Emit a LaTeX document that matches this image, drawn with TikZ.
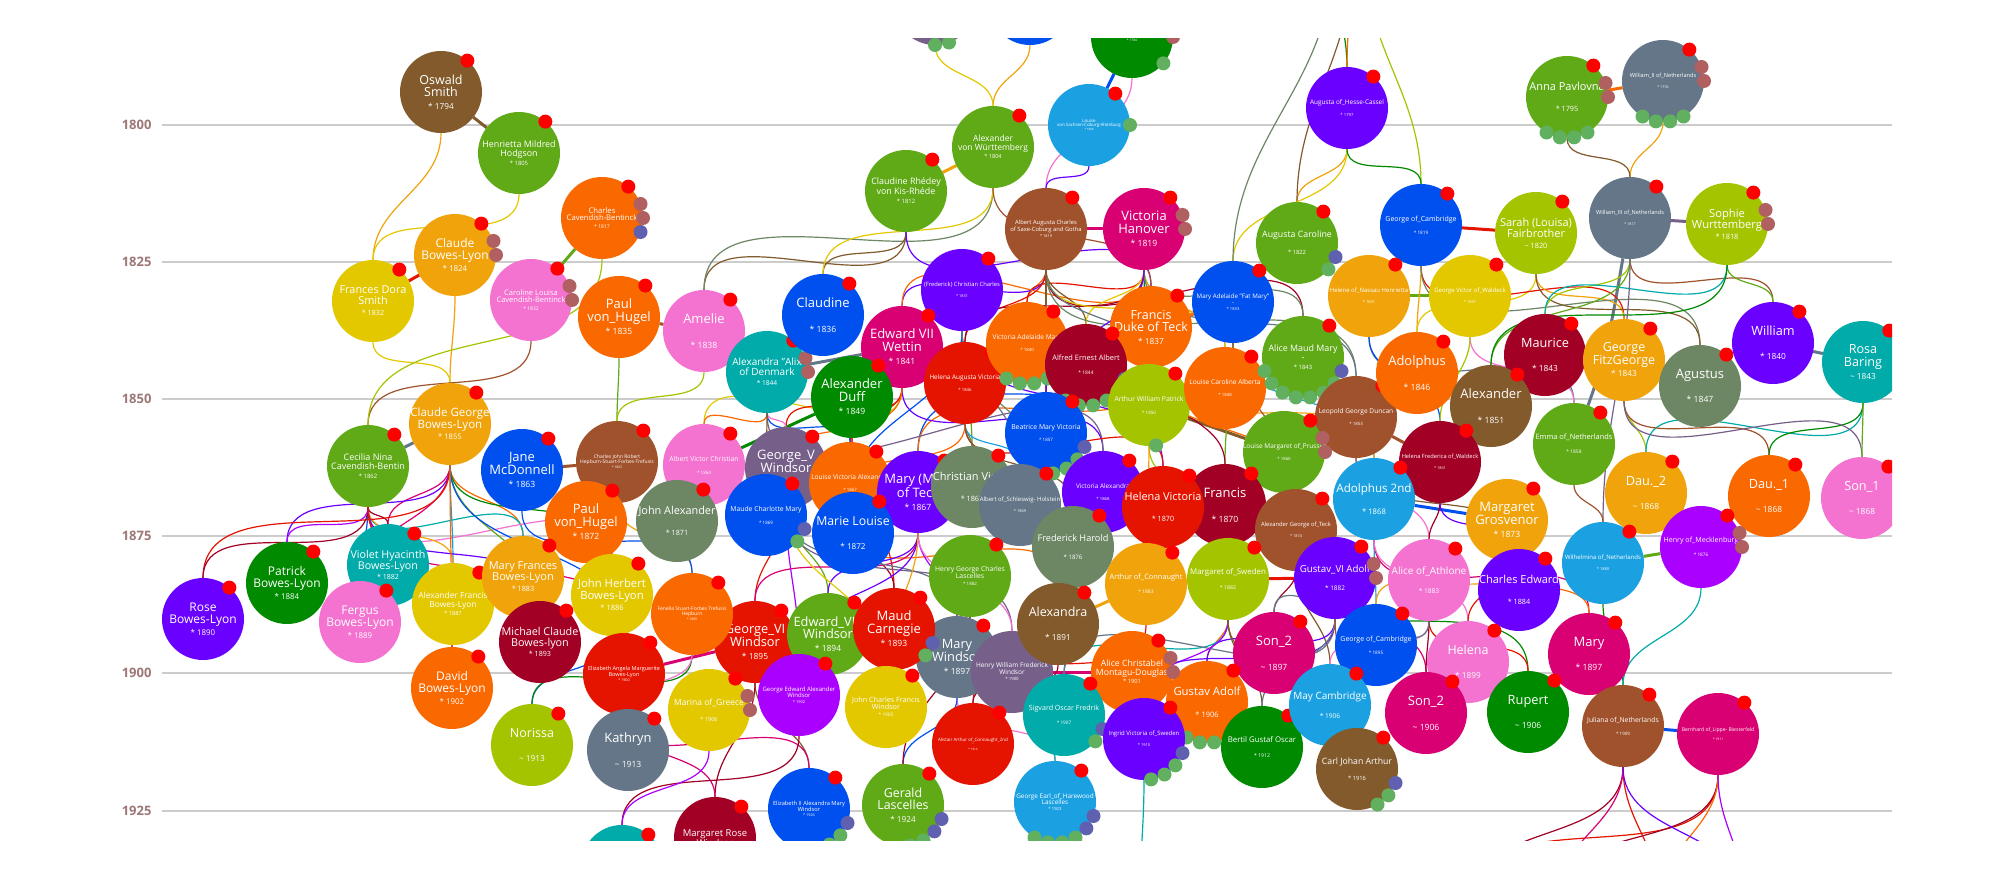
\documentclass[tikz,border=0pt]{standalone}
\usepackage{fontspec}
\setmainfont{Open Sans}
\usetikzlibrary{backgrounds}

% palette of the family tree
\definecolor{cLime}{HTML}{A4C400}
\definecolor{cGreen}{HTML}{60A917}
\definecolor{cEmerald}{HTML}{008A00}
\definecolor{cTeal}{HTML}{00ABA9}
\definecolor{cCyan}{HTML}{1BA1E2}
\definecolor{cCobalt}{HTML}{0050EF}
\definecolor{cIndigo}{HTML}{6A00FF}
\definecolor{cViolet}{HTML}{AA00FF}
\definecolor{cPink}{HTML}{F472D0}
\definecolor{cMagenta}{HTML}{D80073}
\definecolor{cCrimson}{HTML}{A20025}
\definecolor{cRed}{HTML}{E51400}
\definecolor{cOrange}{HTML}{FA6800}
\definecolor{cAmber}{HTML}{F0A30A}
\definecolor{cYellow}{HTML}{E3C800}
\definecolor{cBrown}{HTML}{825A2C}
\definecolor{cOlive}{HTML}{6D8764}
\definecolor{cSteel}{HTML}{647687}
\definecolor{cMauve}{HTML}{76608A}
\definecolor{cSienna}{HTML}{A0522D}
\definecolor{dRed}{HTML}{FF0000}
\definecolor{dBrn}{HTML}{B06060}
\definecolor{dBlu}{HTML}{6060B0}
\definecolor{dGrn}{HTML}{60B060}
\definecolor{gridc}{HTML}{CCCCCC}
\definecolor{yearc}{HTML}{9E7777}

\makeatletter
\newcommand{\yr}[1]{{\fontsize{\fpeval{0.66*\f@size}}{\fpeval{0.7*\f@size}}\selectfont #1}}
\makeatother
\newcommand{\gp}{\\[0.9em]}
\newcommand{\pips}[2]{\foreach \a/\c in {#2}{\fill[\c] (#1.\a) circle (7pt);}}

\begin{document}
\begin{tikzpicture}[x=1pt, y=-1pt,
    pers/.style={circle, minimum size=82pt, inner sep=-8pt, outer sep=0pt, text=white, align=center},
    fs/.style={font=\fontsize{#1}{#1}\selectfont},
    kid/.style={line width=1.2pt},
    wed/.style={line width=3pt},
    gline/.style={gridc, line width=1.5pt},
    yearlab/.style={text=yearc, font=\bfseries\fontsize{13}{13}\selectfont, anchor=east}]

\useasboundingbox (0,0) rectangle (2000,882);

\begin{scope}
\clip (0,39) rectangle (1892,840);

% 1. year axis
\foreach \yy/\yv in {1800/125,1825/262,1850/399,1875/536,1900/673,1925/811}
    \node[yearlab] (y\yy) at (155,\yv) {\yy};

% 2. oldest row (partly cut off at the top)
\node[pers, fill=cMauve] (topMauve) at (935,4) {}; \pips{topMauve}{50/dRed,-70/dGrn,-90/dGrn}
\node[pers, fill=cCobalt] (topBlue) at (1030,4) {}; \pips{topBlue}{50/dRed}
\node[pers, fill=cEmerald, fs=5] (saalfeld) at (1132,37) {\mbox{}\\von Sachsen-Coburg-Saalfeld\\\yr{* 1784}}; \pips{saalfeld}{50/dRed,0/dBrn,-40/dGrn}
\node[pers, fill=cBrown, fs=12.5] (oswald) at (441,92) {Oswald\\Smith\\\yr{* 1794}}; \pips{oswald}{50/dRed}
\node[pers, fill=cGreen, fs=8.9] (henrietta) at (519,153) {Henrietta Mildred\\Hodgson\\\yr{* 1805}}; \pips{henrietta}{50/dRed}
\node[pers, fill=cCyan, fs=4.4] (louise1800) at (1089,125) {Louise\\von Sachsen-Coburg-Altenburg\\\yr{* 1800}}; \pips{louise1800}{50/dRed,0/dGrn}
\node[pers, fill=cGreen, fs=8.5] (alexW) at (993,147) {Alexander\\von Württemberg\\\yr{* 1804}}; \pips{alexW}{50/dRed}
\node[pers, fill=cIndigo, fs=6.4] (hesse) at (1347,108) {Augusta of\_Hesse-Cassel\gp\yr{* 1797}}; \pips{hesse}{50/dRed}
\node[pers, fill=cGreen, fs=11] (anna) at (1567,97) {Anna Pavlovna\gp\yr{* 1795}}; \pips{anna}{50/dRed,20/dBrn,0/dBrn,-60/dGrn,-80/dGrn,-100/dGrn,-120/dGrn}
\node[pers, fill=cSteel, fs=5.6] (will2) at (1663,81) {William\_II of\_Netherlands\gp\yr{* 1792}}; \pips{will2}{50/dRed,20/dBrn,0/dBrn,-60/dGrn,-80/dGrn,-100/dGrn,-120/dGrn}

% 3. generation around 1820
\node[pers, fill=cGreen, fs=8.9] (claudineR) at (906,191) {Claudine Rhédey\\von Kis-Rhéde\\\yr{* 1812}}; \pips{claudineR}{50/dRed}
\node[pers, fill=cAmber, fs=12] (claudeBL) at (455,255) {Claude\\Bowes-Lyon\\\yr{* 1824}}; \pips{claudeBL}{50/dRed,20/dBrn,0/dBrn}
\node[pers, fill=cOrange, fs=7.7] (charlesCB) at (602,218) {Charles\\Cavendish-Bentinck\\\yr{* 1817}}; \pips{charlesCB}{50/dRed,20/dBrn,0/dBrn,-20/dBlu}
\node[pers, fill=cYellow, fs=10.9] (frances) at (373,301) {Frances Dora\\Smith\\\yr{* 1832}}; \pips{frances}{50/dRed}
\node[pers, fill=cPink, fs=7.5] (caroline) at (531,300) {Caroline Louisa\\Cavendish-Bentinck\\\yr{* 1832}}; \pips{caroline}{50/dRed,20/dBrn,0/dBrn}
\node[pers, fill=cSienna, fs=5.8] (albert) at (1046,229) {Albert Augusta Charles\\of Saxe-Coburg and Gotha\\\yr{* 1819}}; \pips{albert}{50/dRed}
\node[pers, fill=cMagenta, fs=13] (victoria) at (1144,229) {Victoria\\Hanover\\\yr{* 1819}}; \pips{victoria}{50/dRed,20/dBrn,0/dBrn}
\node[pers, fill=cGreen, fs=8.8] (augCar) at (1297,243) {Augusta Caroline\gp\yr{* 1822}}; \pips{augCar}{50/dRed,-20/dBlu,-40/dGrn}
\node[pers, fill=cCobalt, fs=7] (georgeC) at (1421,225) {George of\_Cambridge\gp\yr{* 1819}}; \pips{georgeC}{50/dRed}
\node[pers, fill=cLime, fs=11] (sarah) at (1536,233) {Sarah (Louisa)\\Fairbrother\\\yr{\textasciitilde\ 1820}}; \pips{sarah}{50/dRed}
\node[pers, fill=cSteel, fs=5.6] (will3) at (1630,218) {William\_III of\_Netherlands\gp\yr{* 1817}}; \pips{will3}{50/dRed}
\node[pers, fill=cLime, fs=11.2] (sophie) at (1727,224) {Sophie\\Wurttemberg\\\yr{* 1818}}; \pips{sophie}{50/dRed,20/dBrn,0/dBrn}

% 4. generation around 1840
\node[pers, fill=cIndigo, fs=5.8] (christianC) at (962,290) {(Frederick) Christian Charles\gp\yr{* 1831}}; \pips{christianC}{50/dRed}
\node[pers, fill=cAmber, fs=6] (helene) at (1369,296) {Helene of\_Nassau Henrietta\gp\yr{* 1831}}; \pips{helene}{50/dRed}
\node[pers, fill=cYellow, fs=6] (georgeVW) at (1470,296) {George Victor of\_Waldeck\gp\yr{* 1831}}; \pips{georgeVW}{50/dRed}
\node[pers, fill=cCobalt, fs=6.2] (maryAd) at (1233,302) {Mary Adelaide "Fat Mary"\\-\\\yr{* 1833}}; \pips{maryAd}{50/dRed}
\node[pers, fill=cOrange, fs=13] (paul35) at (619,317) {Paul\\von\_Hugel\\\yr{* 1835}}; \pips{paul35}{50/dRed}
\node[pers, fill=cPink, fs=13] (amelie) at (704,331) {Amelie\gp\yr{* 1838}}; \pips{amelie}{50/dRed}
\node[pers, fill=cTeal, fs=10] (alix) at (767,372) {Alexandra "Alix\\of Denmark\\\yr{* 1844}}; \pips{alix}{50/dRed,20/dBrn,0/dBrn}
\node[pers, fill=cCobalt, fs=13] (claudine) at (823,315) {Claudine\gp\yr{* 1836}}; \pips{claudine}{50/dRed}
\node[pers, fill=cMagenta, fs=13] (edward7) at (902,347) {Edward VII\\Wettin\\\yr{* 1841}}; \pips{edward7}{50/dRed}
\node[pers, fill=cEmerald, fs=13] (duff) at (852,397) {Alexander\\Duff\\\yr{* 1849}}; \pips{duff}{50/dRed}
\node[pers, fill=cRed, fs=6.4] (helenaAV) at (965,383) {Helena Augusta Victoria\gp\yr{* 1846}}; \pips{helenaAV}{50/dRed}
\node[pers, fill=cOrange, fs=6.6] (vicAdel) at (1027,343) {Victoria Adelaide Mary\gp\yr{* 1840}}; \pips{vicAdel}{50/dRed,-40/dGrn,-60/dGrn,-80/dGrn,-100/dGrn,-120/dGrn}
\node[pers, fill=cOrange, fs=12.5] (francisT) at (1151,327) {Francis\\Duke of Teck\\\yr{* 1837}}; \pips{francisT}{50/dRed}
\node[pers, fill=cCrimson, fs=7.4] (alfred) at (1086,365) {Alfred Ernest Albert\gp\yr{* 1844}}; \pips{alfred}{50/dRed,-20/dBlu,-40/dGrn,-60/dGrn,-80/dGrn,-100/dGrn,-120/dGrn}
\node[pers, fill=cLime, fs=6.8] (arthurWP) at (1149,405) {Arthur William Patrick\gp\yr{* 1850}}; \pips{arthurWP}{50/dRed,-80/dGrn}
\node[pers, fill=cOrange, fs=6.6] (louiseCA) at (1225,388) {Louise Caroline Alberta\gp\yr{* 1848}}; \pips{louiseCA}{50/dRed}
\node[pers, fill=cGreen, fs=8.9] (aliceMM) at (1303,357) {Alice Maud Mary\\-\\\yr{* 1843}}; \pips{aliceMM}{50/dRed,-20/dBlu,-40/dGrn,-60/dGrn,-80/dGrn,-100/dGrn,-120/dGrn,-140/dGrn,-160/dGrn}
\node[pers, fill=cCobalt, fs=6.8] (beatrice) at (1046,433) {Beatrice Mary Victoria\gp\yr{* 1857}}; \pips{beatrice}{50/dRed,-20/dBlu,-40/dGrn,-60/dGrn,-80/dGrn}
\node[pers, fill=cSienna, fs=6.6] (leopold) at (1356,417) {Leopold George Duncan\gp\yr{* 1853}}; \pips{leopold}{50/dRed}
\node[pers, fill=cGreen, fs=6.5] (louiseMP) at (1284,452) {Louise Margaret of\_Prussia\gp\yr{* 1860}}; \pips{louiseMP}{50/dRed,20/dBrn,0/dBrn}
\node[pers, fill=cOrange, fs=13] (adolphus) at (1417,373) {Adolphus\gp\yr{* 1846}}; \pips{adolphus}{50/dRed}
\node[pers, fill=cCrimson, fs=12.7] (maurice) at (1545,355) {Maurice\gp\yr{* 1843}}; \pips{maurice}{50/dRed}
\node[pers, fill=cBrown, fs=13] (alexander51) at (1491,406) {Alexander\gp\yr{* 1851}}; \pips{alexander51}{50/dRed}
\node[pers, fill=cCrimson, fs=5.7] (helenaFW) at (1440,462) {Helena Frederica of\_Waldeck\gp\yr{* 1861}}; \pips{helenaFW}{50/dRed}
\node[pers, fill=cAmber, fs=12.5] (fitzG) at (1624,360) {George\\FitzGeorge\\\yr{* 1843}}; \pips{fitzG}{50/dRed}
\node[pers, fill=cOlive, fs=13] (agustus) at (1700,386) {Agustus\gp\yr{* 1847}}; \pips{agustus}{50/dRed}
\node[pers, fill=cIndigo, fs=12.7] (william) at (1773,343) {William\gp\yr{* 1840}}; \pips{william}{50/dRed}
\node[pers, fill=cTeal, fs=12.6] (rosa) at (1863,362) {Rosa\\Baring\\\yr{\textasciitilde\ 1843}}; \pips{rosa}{50/dRed}
\node[pers, fill=cGreen, fs=7.4] (emma) at (1574,444) {Emma of\_Netherlands\gp\yr{* 1858}}; \pips{emma}{50/dRed}

% 5. generation around 1865
\node[pers, fill=cAmber, fs=11.5] (claudeG) at (450,424) {Claude George\\Bowes-Lyon\\\yr{* 1855}}; \pips{claudeG}{50/dRed}
\node[pers, fill=cGreen, fs=9] (cecilia) at (368,466) {Cecilia Nina\\Cavendish-Bentin\\\yr{* 1862}}; \pips{cecilia}{50/dRed}
\node[pers, fill=cCobalt, fs=13] (jane) at (522,470) {Jane\\McDonnell\\\yr{* 1863}}; \pips{jane}{50/dRed}
\node[pers, fill=cSienna, fs=5] (charlesJR) at (617,462) {Charles John Robert\\Hepburn-Stuart-Forbes-Trefusis\\\yr{* 1863}}; \pips{charlesJR}{50/dRed}
\node[pers, fill=cPink, fs=6.8] (albertVC) at (704,465) {Albert Victor Christian\gp\yr{* 1864}}; \pips{albertVC}{50/dRed}
\node[pers, fill=cMauve, fs=13] (georgeV) at (786,468) {George\_V\\Windsor\\\yr{* 1865}}; \pips{georgeV}{50/dRed}
\node[pers, fill=cOrange, fs=6.6] (louiseVA) at (850,483) {Louise Victoria Alexandra\gp\yr{* 1867}}; \pips{louiseVA}{50/dRed}
\node[pers, fill=cCobalt, fs=6.8] (maudeCM) at (766,515) {Maude Charlotte Mary\gp\yr{* 1869}}; \pips{maudeCM}{50/dRed,-20/dBlu,-40/dGrn}
\node[pers, fill=cIndigo, fs=13] (maryTeck) at (918,492) {Mary (May)\\of Teck\\\yr{* 1867}}; \pips{maryTeck}{50/dRed}
\node[pers, fill=cCobalt, fs=12.3] (marieL) at (853,533) {Marie Louise\gp\yr{* 1872}}; \pips{marieL}{50/dRed}
\node[pers, fill=cOlive, fs=11] (christianV) at (972,487) {Christian Victor\gp\yr{* 1867}}; \pips{christianV}{50/dRed}
\node[pers, fill=cSteel, fs=6] (albertSH) at (1020,505) {Albert of\_Schleswig- Holstein\gp\yr{* 1869}}; \pips{albertSH}{50/dRed}
\node[pers, fill=cIndigo, fs=6.4] (vicAlex) at (1103,492) {Victoria Alexandra\gp\yr{* 1868}}; \pips{vicAlex}{50/dRed}
\node[pers, fill=cOlive, fs=9.2] (fredH) at (1073,547) {Frederick Harold\gp\yr{* 1876}}; \pips{fredH}{50/dRed}
\node[pers, fill=cCrimson, fs=13] (francis70) at (1225,505) {Francis\gp\yr{* 1870}}; \pips{francis70}{50/dRed}
\node[pers, fill=cRed, fs=10.9] (helenaV) at (1163,507) {Helena Victoria\gp\yr{* 1870}}; \pips{helenaV}{50/dRed}
\node[pers, fill=cSienna, fs=5.8] (alexGT) at (1296,530) {Alexander George of\_Teck\gp\yr{* 1874}}; \pips{alexGT}{50/dRed}
\node[pers, fill=cCyan, fs=11.6] (adolphus2) at (1374,499) {Adolphus 2nd\gp\yr{* 1868}}; \pips{adolphus2}{50/dRed}
\node[pers, fill=cAmber, fs=13] (margG) at (1507,520) {Margaret\\Grosvenor\\\yr{* 1873}}; \pips{margG}{50/dRed}
\node[pers, fill=cAmber, fs=12.7] (dau2) at (1646,493) {Dau.\_2\gp\yr{\textasciitilde\ 1868}}; \pips{dau2}{50/dRed}
\node[pers, fill=cOrange, fs=12.7] (dau1) at (1769,496) {Dau.\_1\gp\yr{\textasciitilde\ 1868}}; \pips{dau1}{50/dRed}
\node[pers, fill=cPink, fs=12.7] (son1) at (1862,498) {Son\_1\gp\yr{\textasciitilde\ 1868}}; \pips{son1}{50/dRed}
\node[pers, fill=cCyan, fs=6] (wilhelmina) at (1603,563) {Wilhelmina of\_Netherlands\gp\yr{* 1880}}; \pips{wilhelmina}{50/dRed}
\node[pers, fill=cViolet, fs=7.1] (henryM) at (1701,547) {Henry of\_Mecklenburg\gp\yr{* 1876}}; \pips{henryM}{50/dRed,20/dBrn,0/dBrn}
\node[pers, fill=cOrange, fs=13] (paul72) at (586,522) {Paul\\von\_Hugel\\\yr{* 1872}}; \pips{paul72}{50/dRed}
\node[pers, fill=cOlive, fs=10.9] (johnA) at (677,521) {John Alexander\gp\yr{* 1871}}; \pips{johnA}{50/dRed}
\node[pers, fill=cGreen, fs=6.8] (henryL) at (970,576) {Henry George Charles\\Lascelles\\\yr{* 1882}}; \pips{henryL}{50/dRed}

% 6. Bowes-Lyon children
\node[pers, fill=cTeal, fs=10.7] (violet) at (388,565) {Violet Hyacinth\\Bowes-Lyon\\\yr{* 1882}}; \pips{violet}{50/dRed}
\node[pers, fill=cEmerald, fs=12] (patrick) at (287,583) {Patrick\\Bowes-Lyon\\\yr{* 1884}}; \pips{patrick}{50/dRed}
\node[pers, fill=cIndigo, fs=12] (rose) at (203,619) {Rose\\Bowes-Lyon\\\yr{* 1890}}; \pips{rose}{50/dRed}
\node[pers, fill=cPink, fs=12] (fergus) at (360,622) {Fergus\\Bowes-Lyon\\\yr{* 1889}}; \pips{fergus}{50/dRed}
\node[pers, fill=cYellow, fs=8.4] (alexF) at (453,604) {Alexander Francis\\Bowes-Lyon\\\yr{* 1887}}; \pips{alexF}{50/dRed}
\node[pers, fill=cAmber, fs=11] (maryF) at (523,577) {Mary Frances\\Bowes-Lyon\\\yr{* 1883}}; \pips{maryF}{50/dRed}
\node[pers, fill=cOrange, fs=12] (david) at (452,688) {David\\Bowes-Lyon\\\yr{* 1902}}; \pips{david}{50/dRed}
\node[pers, fill=cYellow, fs=11.3] (johnH) at (612,595) {John Herbert\\Bowes-Lyon\\\yr{* 1886}}; \pips{johnH}{50/dRed}
\node[pers, fill=cCrimson, fs=10.8] (michael) at (540,642) {Michael Claude\\Bowes-lyon\\\yr{* 1893}}; \pips{michael}{50/dRed}
\node[pers, fill=cRed, fs=5.5] (elizA) at (624,674) {Elizabeth Angela Marguerite\\Bowes-Lyon\\\yr{* 1900}}; \pips{elizA}{50/dRed}

% 7. generation around 1890
\node[pers, fill=cRed, fs=12.8] (george6) at (755,642) {George\_VI\\Windsor\\\yr{* 1895}}; \pips{george6}{50/dRed}
\node[pers, fill=cOrange, fs=5] (fenella) at (692,614) {Fenella Stuart-Forbes Trefusis\\Hepburn\\\yr{* 1889}}; \pips{fenella}{50/dRed}
\node[pers, fill=cGreen, fs=12.8] (edward8) at (828,634) {Edward\_VIII\\Windsor\\\yr{* 1894}}; \pips{edward8}{50/dRed}
\node[pers, fill=cSteel, fs=12.8] (maryW) at (957,657) {Mary\\Windsor\\\yr{* 1897}}; \pips{maryW}{50/dRed}
\node[pers, fill=cRed, fs=13] (maudC) at (894,629) {Maud\\Carnegie\\\yr{* 1893}}; \pips{maudC}{50/dRed,-20/dBlu,-40/dGrn}
\node[pers, fill=cMauve, fs=6.5] (henryW) at (1012,672) {Henry William Frederick\\Windsor\\\yr{* 1900}}; \pips{henryW}{50/dRed}
\node[pers, fill=cBrown, fs=12.5] (alexandra91) at (1058,624) {Alexandra\gp\yr{* 1891}}; \pips{alexandra91}{50/dRed}
\node[pers, fill=cAmber, fs=7.4] (arthurC) at (1146,584) {Arthur of\_Connaught\gp\yr{* 1883}}; \pips{arthurC}{50/dRed}
\node[pers, fill=cLime, fs=7.9] (margS) at (1228,579) {Margaret of\_Sweden\gp\yr{* 1882}}; \pips{margS}{50/dRed}
\node[pers, fill=cPink, fs=10] (aliceA) at (1429,580) {Alice of\_Athlone\gp\yr{* 1883}}; \pips{aliceA}{50/dRed}
\node[pers, fill=cIndigo, fs=9.7] (gustav6) at (1335,578) {Gustav\_VI Adolf\gp\yr{* 1882}}; \pips{gustav6}{50/dRed,20/dBrn,0/dBrn}
\node[pers, fill=cIndigo, fs=11] (charlesE) at (1519,590) {Charles Edward\gp\yr{* 1884}}; \pips{charlesE}{50/dRed}

% 8. youngest row (partly cut off at the bottom)
\node[pers, fill=cLime, fs=12.5] (norissa) at (532,745) {Norissa\gp\yr{\textasciitilde\ 1913}}; \pips{norissa}{50/dRed}
\node[pers, fill=cSteel, fs=12.9] (kathryn) at (628,750) {Kathryn\gp\yr{\textasciitilde\ 1913}}; \pips{kathryn}{50/dRed}
\node[pers, fill=cViolet, fs=6] (georgeEA) at (799,695) {George Edward Alexander\\Windsor\\\yr{* 1902}}; \pips{georgeEA}{50/dRed}
\node[pers, fill=cYellow, fs=8.5] (marina) at (709,710) {Marina of\_Greece\gp\yr{* 1906}}; \pips{marina}{50/dRed,20/dBrn,0/dBrn}
\node[pers, fill=cYellow, fs=7.2] (johnCF) at (886,707) {John Charles Francis\\Windsor\\\yr{* 1905}}; \pips{johnCF}{50/dRed}
\node[pers, fill=cRed, fs=4.5] (alistair) at (973,744) {Alistair Arthur of\_Connaught\_2nd\\-\\\yr{* 1914}}; \pips{alistair}{50/dRed}
\node[pers, fill=cMagenta, fs=13] (son2a) at (1274,653) {Son\_2\gp\yr{\textasciitilde\ 1897}}; \pips{son2a}{50/dRed}
\node[pers, fill=cOrange, fs=11.3] (gustavA) at (1207,702) {Gustav Adolf\gp\yr{* 1906}}; \pips{gustavA}{50/dRed,-80/dGrn,-100/dGrn,-120/dGrn}
\node[pers, fill=cOrange, fs=8.7] (aliceC) at (1132,672) {Alice Christabel\\Montagu-Douglas\\\yr{* 1901}}; \pips{aliceC}{50/dRed,20/dBrn,0/dBrn}
\node[pers, fill=cTeal, fs=7.1] (sigvard) at (1064,715) {Sigvard Oscar Fredrik\gp\yr{* 1907}}; \pips{sigvard}{50/dRed,-20/dBlu,-40/dGrn}
\node[pers, fill=cIndigo, fs=6] (ingrid) at (1144,739) {Ingrid Victoria of\_Sweden\gp\yr{* 1910}}; \pips{ingrid}{50/dRed,-20/dBlu,-40/dGrn,-60/dGrn,-80/dGrn}
\node[pers, fill=cCobalt, fs=7] (georgeC2) at (1376,645) {George of\_Cambridge\gp\yr{* 1895}}; \pips{georgeC2}{50/dRed}
\node[pers, fill=cEmerald, fs=7.8] (bertil) at (1262,747) {Bertil Gustaf Oscar\gp\yr{* 1912}}; \pips{bertil}{50/dRed}
\node[pers, fill=cCyan, fs=10] (mayCam) at (1330,705) {May Cambridge\gp\yr{* 1906}}; \pips{mayCam}{50/dRed}
\node[pers, fill=cBrown, fs=8.7] (carlJ) at (1357,769) {Carl Johan Arthur\gp\yr{* 1916}}; \pips{carlJ}{50/dRed,-20/dBlu,-40/dGrn,-60/dGrn}
\node[pers, fill=cPink, fs=12.5] (helena99) at (1468,662) {Helena\gp\yr{* 1899}}; \pips{helena99}{50/dRed}
\node[pers, fill=cMagenta, fs=13] (son2b) at (1426,713) {Son\_2\gp\yr{\textasciitilde\ 1906}}; \pips{son2b}{50/dRed}
\node[pers, fill=cMagenta, fs=13] (mary97) at (1589,654) {Mary\gp\yr{* 1897}}; \pips{mary97}{50/dRed}
\node[pers, fill=cEmerald, fs=12.8] (rupert) at (1528,712) {Rupert\gp\yr{\textasciitilde\ 1906}}; \pips{rupert}{50/dRed}
\node[pers, fill=cSienna, fs=6.8] (juliana) at (1623,726) {Juliana of\_Netherlands\gp\yr{* 1909}}; \pips{juliana}{50/dRed}
\node[pers, fill=cMagenta, fs=5.1] (bernhard) at (1718,734) {Bernhard of\_Lippe- Biesterfeld\gp\yr{* 1911}}; \pips{bernhard}{50/dRed}
\node[pers, fill=cCyan, fs=6.4] (harewood) at (1055,802) {George Earl\_of\_Harewood\\Lascelles\\\yr{* 1923}}; \pips{harewood}{50/dRed,-20/dBlu,-40/dBlu,-60/dGrn,-80/dGrn,-100/dGrn,-120/dGrn}
\node[pers, fill=cCobalt, fs=5.7] (elizab2) at (809,809) {Elizabeth II Alexandra Mary\\Windsor\\\yr{* 1926}}; \pips{elizab2}{50/dRed,-20/dBlu,-40/dGrn,-60/dGrn,-80/dGrn}
\node[pers, fill=cGreen, fs=12.4] (gerald) at (903,805) {Gerald\\Lascelles\\\yr{* 1924}}; \pips{gerald}{50/dRed,-20/dBlu,-40/dBlu,-60/dGrn,-80/dGrn}
\node[pers, fill=cCrimson, fs=9.5] (margR) at (715,838) {Margaret Rose\\Windsor}; \pips{margR}{50/dRed}
\node[pers, fill=cTeal] (tealBot) at (622,866) {}; \pips{tealBot}{50/dRed}
\end{scope}

% 9. free ends of lines that leave the picture
\coordinate (upA) at (1332,-40);
\coordinate (upB) at (1352,-40);
\coordinate (upC) at (1366,-40);
\coordinate (lowA) at (1470,900);
\coordinate (lowB) at (1555,900);
\coordinate (lowC) at (1660,900);
\coordinate (lowD) at (1745,900);
\coordinate (lowE) at (1140,900);
\coordinate (lowF) at (1125,900);
\coordinate (lowG) at (860,900);

\begin{scope}[on background layer]
\fill[white] (0,0) rectangle (2000,882);
\clip (0,39) rectangle (1892,840);

% 10. grid lines
\foreach \yv in {125,262,399,536,673,811}
    \draw[gline] (162,\yv) -- (1892,\yv);

% 11. marriages
\foreach \a/\b/\c in {oswald/henrietta/cBrown, claudeBL/frances/cRed, charlesCB/caroline/cGreen,
    claudeG/cecilia/cSteel, paul35/amelie/cSienna, claudineR/alexW/cAmber, saalfeld/louise1800/cCobalt,
    albert/victoria/cMagenta, georgeC/sarah/cRed, will2/anna/cOrange, will3/sophie/cMauve,
    helene/georgeVW/cGreen, jane/charlesJR/cSienna, edward7/alix/cSteel, duff/albertVC/cEmerald,
    arthurWP/louiseMP/cBrown, leopold/helenaFW/cSienna, william/rosa/cSteel, adolphus2/margG/cCobalt,
    margS/gustav6/cRed, wilhelmina/henryM/cGreen, juliana/bernhard/cCobalt, george6/elizA/cMagenta,
    henryW/aliceC/cMagenta, arthurC/alexandra91/cAmber, francisT/maryAd/cOrange}
    \draw[wed, \c] (\a) -- (\b);
\draw[wed, cSteel] (will3) to[out=-100, in=70] (emma);

% 12. parent to child
\foreach \a/\b/\c in {oswald/frances/cAmber, henrietta/frances/cYellow,
    claudeBL/claudeG/cAmber, frances/claudeG/cYellow, caroline/cecilia/cSienna, charlesCB/cecilia/cLime,
    claudeG/violet/cMagenta, cecilia/violet/cCrimson, claudeG/maryF/cOrange, cecilia/maryF/cTeal,
    claudeG/patrick/cIndigo, cecilia/patrick/cViolet, claudeG/johnH/cEmerald, cecilia/johnH/cPink,
    claudeG/alexF/cCyan, cecilia/alexF/cAmber, claudeG/fergus/cMagenta, cecilia/fergus/cCobalt,
    claudeG/rose/cRed, cecilia/rose/cCrimson, claudeG/michael/cGreen, cecilia/michael/cIndigo,
    claudeG/elizA/cCobalt, cecilia/elizA/cMagenta, claudeG/david/cOrange, cecilia/david/cRed,
    paul35/charlesJR/cGreen, amelie/charlesJR/cLime, charlesJR/fenella/cAmber, jane/fenella/cCobalt,
    johnH/norissa/cCobalt, fenella/norissa/cEmerald, johnH/kathryn/cMagenta, fenella/kathryn/cPink,
    claudineR/amelie/cBrown, alexW/amelie/cOlive, claudineR/claudine/cBrown, alexW/claudine/cYellow,
    claudineR/francisT/cIndigo, alexW/francisT/cSienna, topBlue/alexW/cAmber, topMauve/alexW/cYellow,
    saalfeld/albert/cPink, louise1800/albert/cIndigo,
    upA/hesse/cEmerald, upB/hesse/cOrange, upC/georgeC/cLime,
    hesse/augCar/cAmber, upB/augCar/cBrown, hesse/maryAd/cYellow, upA/maryAd/cOlive, hesse/georgeC/cEmerald}
    \draw[kid, \c] (\a) to[out=-90, in=90] (\b);

\foreach \a/\b/\c in {albert/vicAdel/cOrange, victoria/vicAdel/cRed, albert/edward7/cIndigo, victoria/edward7/cOrange,
    albert/aliceMM/cCrimson, victoria/aliceMM/cOlive, albert/alfred/cBrown, victoria/alfred/cYellow,
    albert/helenaAV/cRed, victoria/helenaAV/cCrimson, albert/louiseCA/cYellow, victoria/louiseCA/cAmber,
    albert/arthurWP/cSteel, victoria/arthurWP/cEmerald, albert/leopold/cOlive, victoria/leopold/cSteel,
    albert/beatrice/cBrown, victoria/beatrice/cIndigo,
    maryAd/maryTeck/cCobalt, francisT/maryTeck/cOrange, maryAd/adolphus2/cCyan, francisT/adolphus2/cAmber,
    maryAd/francis70/cGreen, francisT/francis70/cCrimson, maryAd/alexGT/cSienna, francisT/alexGT/cOrange,
    georgeC/adolphus/cAmber, sarah/adolphus/cYellow, georgeC/fitzG/cRed, sarah/fitzG/cAmber,
    georgeC/agustus/cOlive, sarah/agustus/cBrown, helene/emma/cSteel, georgeVW/emma/cPink,
    helene/helenaFW/cCobalt, georgeVW/helenaFW/cLime, will2/will3/cAmber, anna/will3/cBrown,
    will3/william/cSienna, sophie/william/cGreen, will3/maurice/cLime, sophie/maurice/cTeal,
    will3/alexander51/cGreen, sophie/alexander51/cEmerald, will3/wilhelmina/cMauve, emma/wilhelmina/cSienna,
    fitzG/dau2/cLime, rosa/dau2/cTeal, fitzG/dau1/cSienna, rosa/dau1/cEmerald, fitzG/son1/cMauve, rosa/son1/cGreen,
    wilhelmina/juliana/cEmerald, henryM/juliana/cTeal,
    juliana/lowA/cCrimson, bernhard/lowA/cRed, juliana/lowB/cMagenta, bernhard/lowB/cCrimson,
    juliana/lowC/cRed, bernhard/lowC/cOrange, juliana/lowD/cIndigo, bernhard/lowD/cViolet}
    \draw[kid, \c] (\a) to[out=-90, in=90] (\b);

\foreach \a/\b/\c in {edward7/albertVC/cYellow, alix/albertVC/cOrange, edward7/georgeV/cRed, alix/georgeV/cPink,
    edward7/louiseVA/cRed, alix/louiseVA/cCobalt, edward7/vicAlex/cIndigo, alix/vicAlex/cMauve,
    edward7/maudeCM/cOrange, alix/maudeCM/cBrown,
    christianC/christianV/cGreen, helenaAV/christianV/cOlive, christianC/albertSH/cSteel, helenaAV/albertSH/cCyan,
    christianC/helenaV/cIndigo, helenaAV/helenaV/cRed, christianC/marieL/cCobalt, helenaAV/marieL/cOrange,
    christianC/fredH/cOlive, helenaAV/fredH/cBrown,
    arthurWP/margS/cLime, louiseMP/margS/cGreen, arthurWP/arthurC/cAmber, louiseMP/arthurC/cTeal,
    leopold/aliceA/cPink, helenaFW/aliceA/cCrimson, leopold/charlesE/cBrown, helenaFW/charlesE/cIndigo,
    adolphus2/georgeC2/cCyan, margG/georgeC2/cAmber, adolphus2/mary97/cMagenta, margG/mary97/cOrange,
    adolphus2/helena99/cPink, margG/helena99/cRed,
    alexGT/mayCam/cBrown, aliceA/mayCam/cPink, alexGT/rupert/cEmerald, aliceA/rupert/cRed,
    alexGT/son2b/cMagenta, aliceA/son2b/cCrimson, alexGT/son2a/cCrimson, aliceA/son2a/cSteel,
    margS/gustavA/cOrange, gustav6/gustavA/cIndigo, margS/sigvard/cTeal, gustav6/sigvard/cSteel,
    margS/ingrid/cViolet, gustav6/ingrid/cIndigo, margS/bertil/cBrown, gustav6/bertil/cSteel,
    margS/carlJ/cBrown, gustav6/carlJ/cSienna,
    duff/alexandra91/cBrown, louiseVA/alexandra91/cOrange, duff/maudC/cRed, louiseVA/maudC/cCrimson,
    georgeV/edward8/cGreen, maryTeck/edward8/cIndigo, georgeV/george6/cRed, maryTeck/george6/cMagenta,
    georgeV/maryW/cSteel, maryTeck/maryW/cViolet, georgeV/henryW/cMauve, maryTeck/henryW/cPink,
    georgeV/georgeEA/cViolet, maryTeck/georgeEA/cIndigo, georgeV/johnCF/cYellow, maryTeck/johnCF/cAmber,
    arthurC/alistair/cRed, alexandra91/alistair/cCrimson,
    george6/elizab2/cBrown, elizA/elizab2/cMagenta, george6/margR/cCrimson, elizA/margR/cMagenta,
    maryW/harewood/cPink, henryL/harewood/cTeal, maryW/gerald/cCobalt, henryL/gerald/cCrimson,
    georgeEA/tealBot/cCrimson, marina/tealBot/cViolet,
    ingrid/lowE/cTeal, harewood/lowF/cPink, elizab2/lowG/cBrown}
    \draw[kid, \c] (\a) to[out=-90, in=90] (\b);
\end{scope}
\end{tikzpicture}
\end{document}
